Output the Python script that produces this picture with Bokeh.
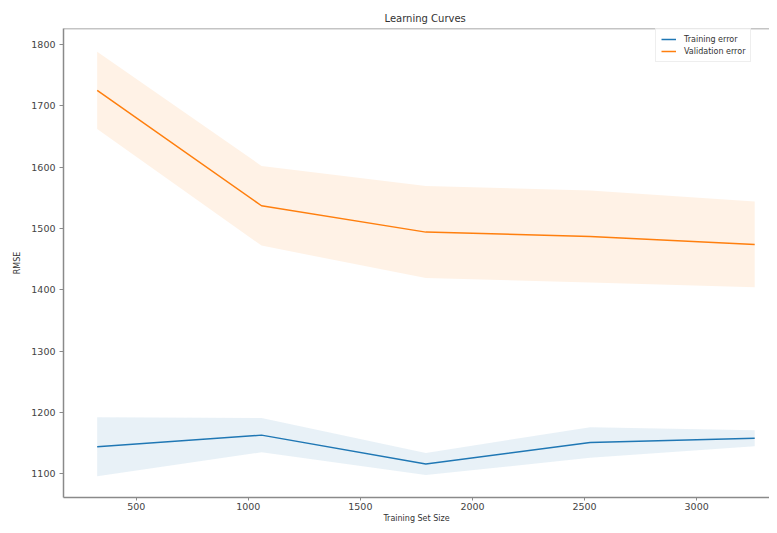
import numpy as np
from bokeh.plotting import figure
from bokeh.models import Range1d, Span, Legend, LegendItem, FixedTicker
from bokeh.embed import file_html
from bokeh.resources import INLINE

# ---- data ----
train_sizes = [326, 1059, 1792, 2525, 3259]
train_mean = [1144, 1163, 1116, 1151, 1158]
train_std = [48, 28, 18, 25, 13]
val_mean = [1725, 1537, 1494, 1487, 1474]
val_std = [63, 65, 75, 75, 70]
x_ticks = [500, 1000, 1500, 2000, 2500, 3000]
y_ticks = [1100, 1200, 1300, 1400, 1500, 1600, 1700, 1800]

BLUE = "#1f77b4"
ORANGE = "#ff7f0e"
FONT = "DejaVu Sans"

tm, ts = np.array(train_mean, float), np.array(train_std, float)
vm, vs = np.array(val_mean, float), np.array(val_std, float)

p = figure(width=769, height=525, output_backend="svg", toolbar_location=None,
           x_range=Range1d(175.7, 3325), y_range=Range1d(1061.3, 1826),
           min_border_left=63, min_border_right=0, min_border_top=28,
           min_border_bottom=26, title="Learning Curves")
p.outline_line_color = None
p.border_fill_color = "white"
p.grid.visible = False
p.background_fill_color = "white"

p.title.align = "left"
p.title.offset = 321
p.title.text_font = FONT
p.title.text_font_size = "10px"
p.title.text_font_style = "normal"
p.title.text_color = "#333333"

for ax in (p.xaxis[0], p.yaxis[0]):
    ax.axis_line_color = "#8a8a8a"
    ax.axis_line_width = 1.5
    ax.major_tick_line_color = "#8a8a8a"
    ax.major_tick_out = 4
    ax.major_tick_in = 0
    ax.minor_tick_line_color = None
    ax.major_label_text_font = FONT
    ax.major_label_text_font_size = "9.5px"
    ax.major_label_text_color = "#444444"
    ax.axis_label_text_font = FONT
    ax.axis_label_text_font_size = "8px"
    ax.axis_label_text_font_style = "normal"
    ax.axis_label_text_color = "#333333"

p.xaxis.ticker = FixedTicker(ticks=x_ticks)
p.yaxis.ticker = FixedTicker(ticks=y_ticks)
p.xaxis.axis_label = "Training Set Size"
p.yaxis.axis_label = "RMSE"
p.xaxis.major_tick_out = 3
p.xaxis.major_label_standoff = 2
p.xaxis.axis_label_standoff = 1
p.yaxis.major_label_standoff = 4
p.yaxis.axis_label_standoff = 6

# top frame line
p.add_layout(Span(location=1826, dimension="width", line_color="#8a8a8a", line_width=1.5))

p.varea(x=train_sizes, y1=tm - ts, y2=tm + ts, fill_color=BLUE, fill_alpha=0.1)
p.varea(x=train_sizes, y1=vm - vs, y2=vm + vs, fill_color=ORANGE, fill_alpha=0.1)
l1 = p.line(train_sizes, train_mean, line_color=BLUE, line_width=1.5)
l2 = p.line(train_sizes, val_mean, line_color=ORANGE, line_width=1.5)

legend = Legend(items=[LegendItem(label="Training error", renderers=[l1]),
                       LegendItem(label="Validation error", renderers=[l2])],
                location=(592, 435))
legend.label_text_font = FONT
legend.label_text_font_size = "8px"
legend.label_text_color = "#333333"
legend.glyph_width = 15
legend.glyph_height = 10
legend.label_height = 10
legend.label_standoff = 8
legend.spacing = 2
legend.padding = 5
legend.margin = 0
legend.border_line_color = "#dddddd"
legend.background_fill_alpha = 0.8
p.add_layout(legend)

open("out.html", "w").write(file_html(p, INLINE))
